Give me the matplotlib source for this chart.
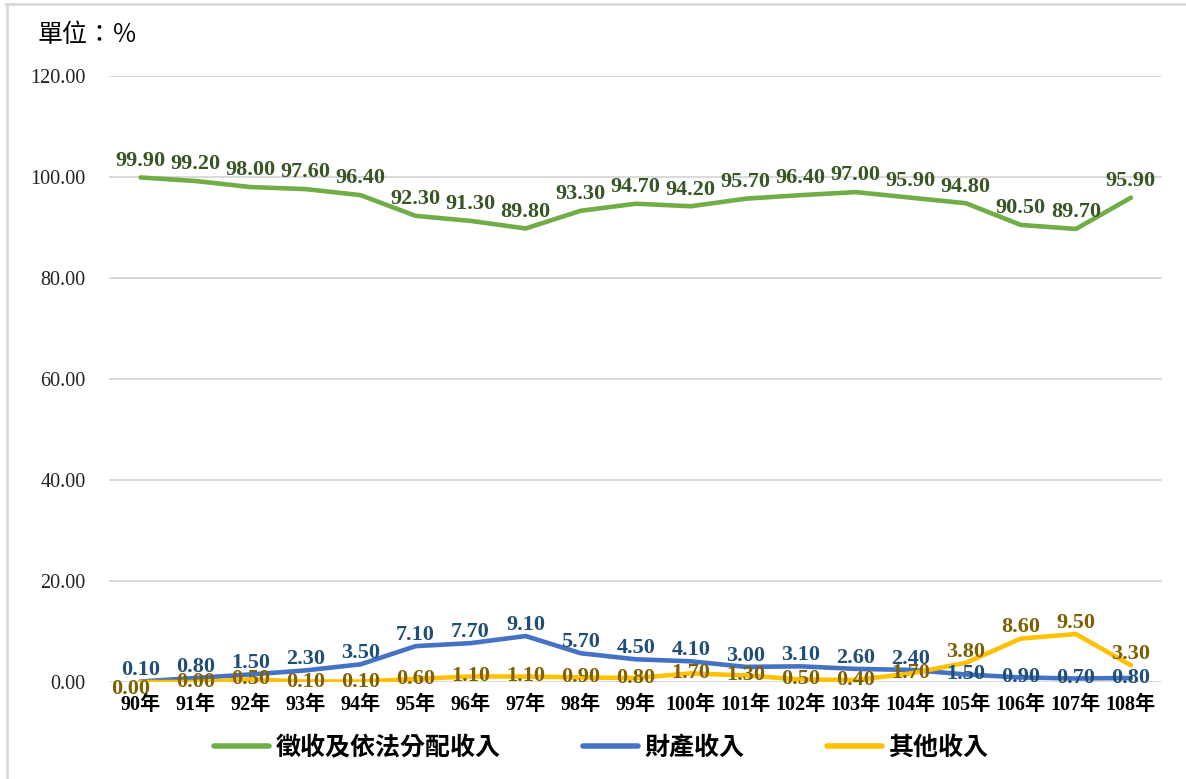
import numpy as np
import matplotlib
matplotlib.use("Agg")
import matplotlib.pyplot as plt
from matplotlib.lines import Line2D

# data
years = [f"{y}年" for y in range(90, 109)]
levy = [99.9, 99.2, 98.0, 97.6, 96.4, 92.3, 91.3, 89.8, 93.3, 94.7,
        94.2, 95.7, 96.4, 97.0, 95.9, 94.8, 90.5, 89.7, 95.9]
prop = [0.1, 0.8, 1.5, 2.3, 3.5, 7.1, 7.7, 9.1, 5.7, 4.5,
        4.1, 3.0, 3.1, 2.6, 2.4, 1.5, 0.9, 0.7, 0.8]
other = [0.0, 0.0, 0.5, 0.1, 0.1, 0.6, 1.1, 1.1, 0.9, 0.8,
         1.7, 1.3, 0.5, 0.4, 1.7, 3.8, 8.6, 9.5, 3.3]
series_names = ["徵收及依法分配收入", "財產收入", "其他收入"]
yticks = [0, 20, 40, 60, 80, 100, 120]

line_colors = ["#70AD47", "#4472C4", "#FFC000"]
label_colors = ["#375623", "#1F4E79", "#7F6000"]
serif = ["Liberation Serif", "Noto Sans CJK TC"]
cjk = ["Noto Sans CJK TC", "DejaVu Sans"]

fig = plt.figure(figsize=(11.86, 7.79), dpi=100)
ax = fig.add_axes([0.092, 0.1245, 0.888, 0.778])
x = np.arange(len(years))

for vals, c in zip([levy, prop, other], line_colors):
    ax.plot(x, vals, color=c, lw=3.3, solid_capstyle="round", zorder=3)

# data labels
lab_kw = dict(textcoords="offset points", ha="center", va="center", fontsize=16,
              fontweight="bold", family=serif, zorder=5)
for i, v in enumerate(levy):
    ax.annotate(f"{v:.2f}", (x[i], v), xytext=(0, 12), color=label_colors[0], **lab_kw)
for i in range(len(years)):
    for vals, others, col in [(prop, other, label_colors[1]), (other, prop, label_colors[2])]:
        v = vals[i]
        dx, dy = 0, (8 if v > others[i] else 0)
        if i == 0 and v < others[i]:
            dx, dy = -7, -5
        ax.annotate(f"{v:.2f}", (x[i], v), xytext=(dx, dy), color=col, **lab_kw)

ax.set_xlim(-0.57, len(years) - 0.43)
ax.set_ylim(0, 120)
ax.set_yticks(yticks)
ax.set_yticklabels([f"{t:.2f}" for t in yticks], fontsize=14.5, family=serif, color="#222222")
ax.set_xticks(x)
ax.set_xticklabels(years, fontsize=14.5, fontweight="bold", family=serif)
ax.tick_params(axis="x", length=0, pad=9)
ax.tick_params(axis="y", length=0, pad=17)
ax.grid(axis="y", color="#D9D9D9", lw=1.4)
ax.set_axisbelow(True)
for s in ax.spines.values():
    s.set_visible(False)

fig.text(0.032, 0.955, "單位：％", fontsize=18, family=cjk, va="center")

handles = [Line2D([0], [0], color=c, lw=4, solid_capstyle="round") for c in line_colors]
fig.legend(handles, series_names, loc="center", bbox_to_anchor=(0.507, 0.04), ncol=3,
           frameon=False, handlelength=2.2, columnspacing=3.3, handletextpad=0.25,
           prop={"family": cjk, "weight": "bold", "size": 18})

# figure border (top and left visible)
fig.add_artist(Line2D([6 / 1186, 1], [1 - 4 / 779, 1 - 4 / 779], color="#D9D9D9", lw=2,
                      transform=fig.transFigure))
fig.add_artist(Line2D([7 / 1186, 7 / 1186], [0, 1 - 4 / 779], color="#D9D9D9", lw=2,
                      transform=fig.transFigure))

fig.savefig("out.png", dpi=100)
